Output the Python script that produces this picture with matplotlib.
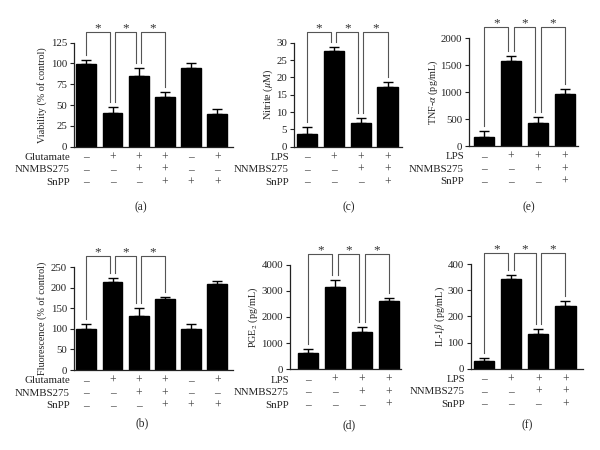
import matplotlib
matplotlib.use('Agg')
import matplotlib.pyplot as plt
import numpy as np

plt.rcParams['font.family'] = ['Liberation Serif', 'DejaVu Serif']
plt.rcParams['mathtext.fontset'] = 'stix'

# ---------------- data ----------------
viability = [99, 41, 85, 60, 94, 39]
viability_err = [5, 7, 9, 6, 6, 6]
fluorescence = [100, 215, 132, 172, 99, 209]
fluorescence_err = [13, 8, 19, 5, 14, 8]
nitrite = [3.7, 27.6, 6.7, 17.1]
nitrite_err = [1.9, 1.2, 1.6, 1.7]
pge2 = [610, 3130, 1430, 2610]
pge2_err = [160, 280, 200, 130]
tnf = [167, 1573, 433, 960]
tnf_err = [110, 100, 100, 100]
il1b = [28, 344, 133, 238]
il1b_err = [12, 15, 18, 19]

glut_names = ['Glutamate', 'NNMBS275', 'SnPP']
glut_rows = [['–', '+', '+', '+', '–', '+'],
             ['–', '–', '+', '+', '–', '–'],
             ['–', '–', '–', '+', '+', '+']]
lps_names = ['LPS', 'NNMBS275', 'SnPP']
lps_rows = [['–', '+', '+', '+'],
            ['–', '–', '+', '+'],
            ['–', '–', '–', '+']]

yticks_a = [0, 25, 50, 75, 100, 125]
yticks_b = [0, 50, 100, 150, 200, 250]
yticks_c = [0, 5, 10, 15, 20, 25, 30]
yticks_d = [0, 1000, 2000, 3000, 4000]
yticks_e = [0, 500, 1000, 1500, 2000]
yticks_f = [0, 100, 200, 300, 400]

sig_pairs = [(0, 1), (1, 2), (2, 3)]

W, H = 600, 450
fig = plt.figure(figsize=(6, 4.5), dpi=100)


def rect(x0, y0, x1, y1):
    return [x0 / W, 1 - y1 / H, (x1 - x0) / W, (y1 - y0) / H]


panels = [
    dict(box=(74, 42.7, 233, 146.7), vals=viability, errs=viability_err, yt=yticks_a,
         ylabel='Viability (% of control)', xlim=(-0.47, 5.6), names=glut_names, rows=glut_rows,
         name_x=70, tag='(a)', tag_xy=(141, 207), ylab_x=42),
    dict(box=(294, 42.7, 401.5, 146.7), vals=nitrite, errs=nitrite_err, yt=yticks_c,
         ylabel=r'Nitrite ($\mu$M)', xlim=(-0.48, 3.52), names=lps_names, rows=lps_rows,
         name_x=289, tag='(c)', tag_xy=(349, 207), ylab_x=268),
    dict(box=(469, 38.3, 578, 146), vals=tnf, errs=tnf_err, yt=yticks_e,
         ylabel=r'TNF-$\alpha$ (pg/mL)', xlim=(-0.56, 3.48), names=lps_names, rows=lps_rows,
         name_x=464, tag='(e)', tag_xy=(529, 207), ylab_x=433),
    dict(box=(74, 267.3, 233, 370), vals=fluorescence, errs=fluorescence_err, yt=yticks_b,
         ylabel='Fluorescence (% of control)', xlim=(-0.47, 5.6), names=glut_names, rows=glut_rows,
         name_x=70, tag='(b)', tag_xy=(142, 423), ylab_x=42),
    dict(box=(290, 264.7, 401, 369.3), vals=pge2, errs=pge2_err, yt=yticks_d,
         ylabel=r'PGE$_2$ (pg/mL)', xlim=(-0.68, 3.46), names=lps_names, rows=lps_rows,
         name_x=289, tag='(d)', tag_xy=(349, 425), ylab_x=253),
    dict(box=(470.7, 264, 583, 368.7), vals=il1b, errs=il1b_err, yt=yticks_f,
         ylabel=r'IL-1$\beta$ (pg/mL)', xlim=(-0.49, 3.65), names=lps_names, rows=lps_rows,
         name_x=465, tag='(f)', tag_xy=(527, 425), ylab_x=440),
]

TICK_FS = 7.8
ROW_FS = 7.8
SYM_FS = 8.3
YL_FS = 7.3
row_off = [10.8, 23.3, 35.7]

for p in panels:
    x0, y0, x1, y1 = p['box']
    ax = fig.add_axes(rect(x0, y0, x1, y1))
    n = len(p['vals'])
    xs = np.arange(n)
    ymax = p['yt'][-1]
    ax.bar(xs, p['vals'], width=0.75, color='black', edgecolor='black', zorder=2)
    ax.errorbar(xs, p['vals'], yerr=[np.zeros(n), p['errs']], fmt='none', ecolor='black',
                elinewidth=1, capsize=3.5, capthick=1, zorder=3)
    ax.set_xlim(*p['xlim'])
    ax.set_ylim(0, ymax)
    ax.set_yticks(p['yt'])
    ax.set_xticks([])
    for s in ['top', 'right']:
        ax.spines[s].set_visible(False)
    for s in ['left', 'bottom']:
        ax.spines[s].set_linewidth(0.9)
        ax.spines[s].set_color('#222222')
    ax.tick_params(axis='y', direction='out', length=3, width=0.8, labelsize=TICK_FS, pad=2,
                   colors='#222222')
    ax.set_ylabel(p['ylabel'], fontsize=YL_FS, color='#222222')
    ax.yaxis.label.set_va('center')
    ax.yaxis.set_label_coords((p['ylab_x'] - x0) / (x1 - x0), 0.5)

    # significance brackets
    hpx = y1 - y0
    per_px = ymax / hpx
    top = ymax + 11 * per_px
    gap = 5 * per_px
    d = 0.1
    tops = [v + e for v, e in zip(p['vals'], p['errs'])]
    for k, (i, j) in enumerate(sig_pairs):
        xl = i + (d if k > 0 else 0)
        xr = j - (d if k < len(sig_pairs) - 1 else 0)
        ax.plot([xl, xl, xr, xr], [tops[i] + gap, top, top, tops[j] + gap],
                color='#555555', lw=0.8, clip_on=False, zorder=4)
        ax.text((xl + xr) / 2, top + 0.5 * per_px, '*', ha='center', va='baseline',
                fontsize=9.5, color='#333333', clip_on=False)

    # treatment table
    for r, row in enumerate(p['rows']):
        ypx = y1 + row_off[r]
        fig.text(p['name_x'] / W, 1 - ypx / H, p['names'][r], ha='right', va='center',
                 fontsize=ROW_FS, color='#222222')
        for i, sym in enumerate(row):
            ax.annotate(sym, xy=(i, 0), xycoords=('data', 'axes fraction'),
                        xytext=(0, -row_off[r] * 0.72), textcoords='offset points',
                        ha='center', va='center', fontsize=SYM_FS, color='#444444',
                        annotation_clip=False)
    fig.text(p['tag_xy'][0] / W, 1 - p['tag_xy'][1] / H, p['tag'], ha='center', va='center',
             fontsize=ROW_FS + 0.5, color='#222222')

fig.savefig('out.png', dpi=100)
